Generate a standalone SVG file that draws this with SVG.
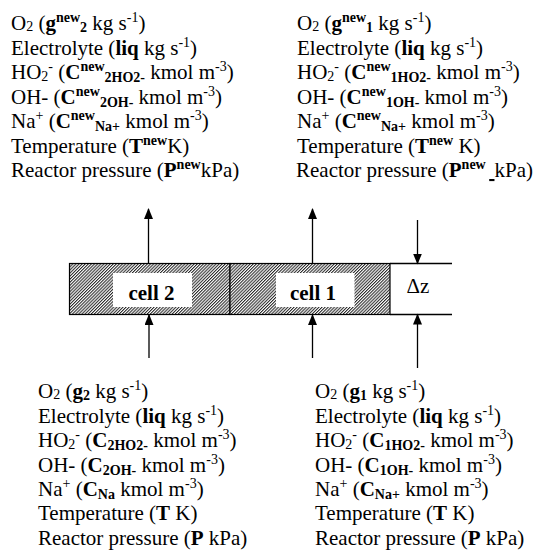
<svg xmlns="http://www.w3.org/2000/svg" width="534" height="551" viewBox="0 0 534 551">
<style>
text { font-size: 21px; fill: #000; }
.b { font-weight: bold; }
.s { font-size: 14px; }
.cl { font-weight: bold; text-anchor: middle; }
.ln { stroke: #000; stroke-width: 1.3; fill: none; }
.ar { stroke: #000; stroke-width: 1.3; fill: none; marker-end: url(#ah); }
</style>
<defs>
<marker id="ah" markerWidth="12" markerHeight="12" refX="10" refY="4.5" orient="auto" markerUnits="userSpaceOnUse">
<path d="M0,0 L11,4.5 L0,9 Z" fill="#000"/>
</marker>
<pattern id="hatch" patternUnits="userSpaceOnUse" width="2.2" height="4" patternTransform="rotate(45)">
<rect width="2.2" height="4" fill="#fff"/>
<rect width="1.05" height="4" fill="#2a2a2a"/>
</pattern>
</defs>

<g font-family="Liberation Serif, Times New Roman, Times, serif">
<g id="reactor">
<rect x="69.5" y="263.5" width="160.5" height="51" fill="url(#hatch)" stroke="#000" stroke-width="1.2"/>
<rect x="230" y="263.5" width="160" height="51" fill="url(#hatch)" stroke="#000" stroke-width="1.2"/>
<line class="ln" x1="390" y1="263.5" x2="452" y2="263.5"/>
<line class="ln" x1="390" y1="314.5" x2="452" y2="314.5"/>
</g>
<g id="cell2">
<rect x="113" y="273" width="79" height="34" fill="#fff"/>
<text class="cl" x="151.5" y="300">cell 2</text>
</g>
<g id="cell1">
<rect x="276" y="273" width="78.5" height="34" fill="#fff"/>
<text class="cl" x="313" y="300">cell 1</text>
</g>
<g id="dz">
<text x="418" y="293" text-anchor="middle">Δz</text>
</g>

<g id="connectors">
<line class="ar" x1="148.5" y1="264" x2="148.5" y2="209"/>
<line class="ar" x1="312.5" y1="264" x2="312.5" y2="209"/>
<line class="ar" x1="149" y1="358" x2="149" y2="315"/>
<line class="ar" x1="312.5" y1="358" x2="312.5" y2="315"/>
<line class="ar" x1="417.5" y1="220" x2="417.5" y2="263.5"/>
<line class="ar" x1="417.5" y1="368" x2="417.5" y2="314.5"/>
</g>

<g id="outlet2">
<text x="11" y="30">O<tspan class="s" dy="1">2</tspan><tspan dy="-1"> (</tspan><tspan class="b">g</tspan><tspan class="b s" dy="-8">new</tspan><tspan class="b s" dy="10">2</tspan><tspan dy="-2"> kg s</tspan><tspan class="s" dy="-8">-1</tspan><tspan dy="8">)</tspan></text>
<text x="11" y="54.5">Electrolyte (<tspan class="b">liq</tspan> kg s<tspan class="s" dy="-8">-1</tspan><tspan dy="8">)</tspan></text>
<text x="11" y="79">HO<tspan class="s" dy="2">2</tspan><tspan class="s" dy="-10">-</tspan><tspan dy="8"> (</tspan><tspan class="b">C</tspan><tspan class="b s" dy="-8">new</tspan><tspan class="b s" dy="11">2HO2-</tspan><tspan dy="-3"> kmol m</tspan><tspan class="s" dy="-8">-3</tspan><tspan dy="8">)</tspan></text>
<text x="11" y="103.5">OH- (<tspan class="b">C</tspan><tspan class="b s" dy="-8">new</tspan><tspan class="b s" dy="11">2OH-</tspan><tspan dy="-3"> kmol m</tspan><tspan class="s" dy="-8">-3</tspan><tspan dy="8">)</tspan></text>
<text x="11" y="128">Na<tspan class="s" dy="-8">+</tspan><tspan dy="8"> (</tspan><tspan class="b">C</tspan><tspan class="b s" dy="-8">new</tspan><tspan class="b s" dy="11">Na+</tspan><tspan dy="-3"> kmol m</tspan><tspan class="s" dy="-8">-3</tspan><tspan dy="8">)</tspan></text>
<text x="11" y="152.5">Temperature (<tspan class="b">T</tspan><tspan class="b s" dy="-8">new</tspan><tspan dy="8">K)</tspan></text>
<text x="11" y="177">Reactor pressure (<tspan class="b">P</tspan><tspan class="b s" dy="-8">new</tspan><tspan dy="8">kPa)</tspan></text>
</g>

<g id="outlet1">
<text x="297" y="30">O<tspan class="s" dy="1">2</tspan><tspan dy="-1"> (</tspan><tspan class="b">g</tspan><tspan class="b s" dy="-8">new</tspan><tspan class="b s" dy="10">1</tspan><tspan dy="-2"> kg s</tspan><tspan class="s" dy="-8">-1</tspan><tspan dy="8">)</tspan></text>
<text x="297" y="54.5">Electrolyte (<tspan class="b">liq</tspan> kg s<tspan class="s" dy="-8">-1</tspan><tspan dy="8">)</tspan></text>
<text x="297" y="79">HO<tspan class="s" dy="2">2</tspan><tspan class="s" dy="-10">-</tspan><tspan dy="8"> (</tspan><tspan class="b">C</tspan><tspan class="b s" dy="-8">new</tspan><tspan class="b s" dy="11">1HO2-</tspan><tspan dy="-3"> kmol m</tspan><tspan class="s" dy="-8">-3</tspan><tspan dy="8">)</tspan></text>
<text x="297" y="103.5">OH- (<tspan class="b">C</tspan><tspan class="b s" dy="-8">new</tspan><tspan class="b s" dy="11">1OH-</tspan><tspan dy="-3"> kmol m</tspan><tspan class="s" dy="-8">-3</tspan><tspan dy="8">)</tspan></text>
<text x="297" y="128">Na<tspan class="s" dy="-8">+</tspan><tspan dy="8"> (</tspan><tspan class="b">C</tspan><tspan class="b s" dy="-8">new</tspan><tspan class="b s" dy="11">Na+</tspan><tspan dy="-3"> kmol m</tspan><tspan class="s" dy="-8">-3</tspan><tspan dy="8">)</tspan></text>
<text x="297" y="152.5">Temperature (<tspan class="b">T</tspan><tspan class="b s" dy="-8">new</tspan><tspan dy="8"> K)</tspan></text>
<text x="296" y="177">Reactor pressure (<tspan class="b">P</tspan><tspan class="b s" dy="-8">new</tspan><tspan class="s" dy="8"> </tspan><tspan text-decoration="underline">&#160;</tspan>kPa)</text>
</g>

<g id="inlet2">
<text x="38" y="398">O<tspan class="s" dy="1">2</tspan><tspan dy="-1"> (</tspan><tspan class="b">g</tspan><tspan class="b s" dy="2">2</tspan><tspan dy="-2"> kg s</tspan><tspan class="s" dy="-8">-1</tspan><tspan dy="8">)</tspan></text>
<text x="38" y="422.5">Electrolyte (<tspan class="b">liq</tspan> kg s<tspan class="s" dy="-8">-1</tspan><tspan dy="8">)</tspan></text>
<text x="38" y="447">HO<tspan class="s" dy="2">2</tspan><tspan class="s" dy="-10">-</tspan><tspan dy="8"> (</tspan><tspan class="b">C</tspan><tspan class="b s" dy="3">2HO2-</tspan><tspan dy="-3"> kmol m</tspan><tspan class="s" dy="-8">-3</tspan><tspan dy="8">)</tspan></text>
<text x="38" y="471.5">OH- (<tspan class="b">C</tspan><tspan class="b s" dy="3">2OH-</tspan><tspan dy="-3"> kmol m</tspan><tspan class="s" dy="-8">-3</tspan><tspan dy="8">)</tspan></text>
<text x="38" y="496">Na<tspan class="s" dy="-8">+</tspan><tspan dy="8"> (</tspan><tspan class="b">C</tspan><tspan class="b s" dy="3">Na</tspan><tspan dy="-3"> kmol m</tspan><tspan class="s" dy="-8">-3</tspan><tspan dy="8">)</tspan></text>
<text x="38" y="520">Temperature (<tspan class="b">T</tspan> K)</text>
<text x="38" y="544.5">Reactor pressure (<tspan class="b">P</tspan> kPa)</text>
</g>

<g id="inlet1">
<text x="315" y="398">O<tspan class="s" dy="1">2</tspan><tspan dy="-1"> (</tspan><tspan class="b">g</tspan><tspan class="b s" dy="2">1</tspan><tspan dy="-2"> kg s</tspan><tspan class="s" dy="-8">-1</tspan><tspan dy="8">)</tspan></text>
<text x="315" y="422.5">Electrolyte (<tspan class="b">liq</tspan> kg s<tspan class="s" dy="-8">-1</tspan><tspan dy="8">)</tspan></text>
<text x="315" y="447">HO<tspan class="s" dy="2">2</tspan><tspan class="s" dy="-10">-</tspan><tspan dy="8"> (</tspan><tspan class="b">C</tspan><tspan class="b s" dy="3">1HO2-</tspan><tspan dy="-3"> kmol m</tspan><tspan class="s" dy="-8">-3</tspan><tspan dy="8">)</tspan></text>
<text x="315" y="471.5">OH- (<tspan class="b">C</tspan><tspan class="b s" dy="3">1OH-</tspan><tspan dy="-3"> kmol m</tspan><tspan class="s" dy="-8">-3</tspan><tspan dy="8">)</tspan></text>
<text x="315" y="496">Na<tspan class="s" dy="-8">+</tspan><tspan dy="8"> (</tspan><tspan class="b">C</tspan><tspan class="b s" dy="3">Na+</tspan><tspan dy="-3"> kmol m</tspan><tspan class="s" dy="-8">-3</tspan><tspan dy="8">)</tspan></text>
<text x="315" y="520">Temperature (<tspan class="b">T</tspan> K)</text>
<text x="315" y="544.5">Reactor pressure (<tspan class="b">P</tspan> kPa)</text>
</g>
</g>
</svg>
